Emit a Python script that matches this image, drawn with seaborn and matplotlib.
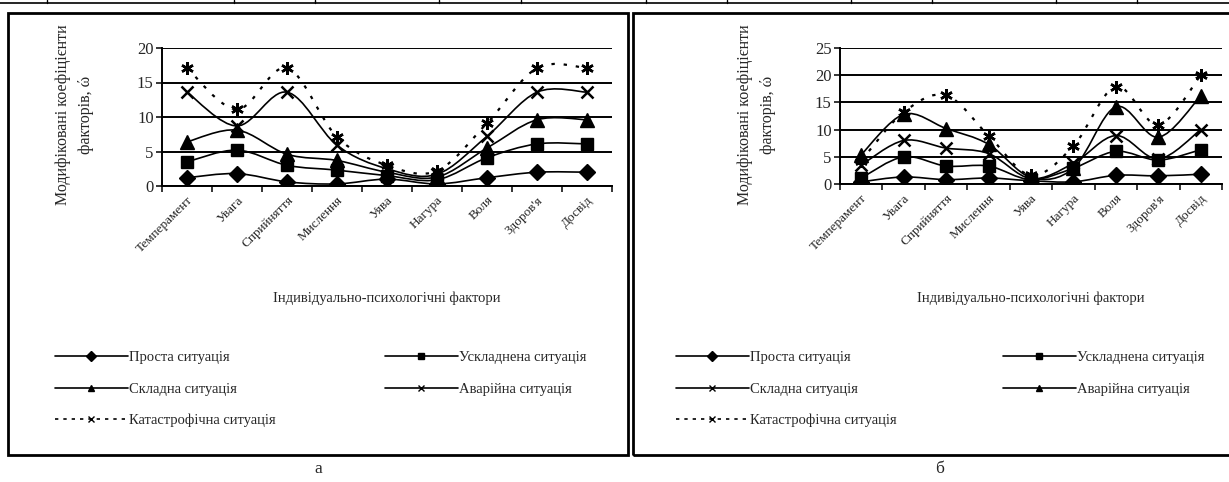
import numpy as np
import pandas as pd
import matplotlib
matplotlib.use("Agg")
import matplotlib.pyplot as plt
from matplotlib.path import Path
from matplotlib.patches import PathPatch, Rectangle
from matplotlib.lines import Line2D
import seaborn as sns

factors = ["Темперамент", "Увага", "Сприйняття", "Мислення", "Уява",
           "Нагура", "Воля", "Здоров'я", "Досвід"]

# panel "а"
a_prosta = [1.2, 1.8, 0.6, 0.3, 1.0, 0.3, 1.2, 2.0, 2.0]
a_uskl = [3.5, 5.2, 3.0, 2.3, 1.5, 0.9, 4.1, 6.1, 6.1]
a_skl = [6.4, 8.1, 4.6, 3.7, 2.0, 1.3, 5.5, 9.6, 9.6]
a_avar = [13.6, 8.7, 13.6, 5.9, 2.5, 1.7, 7.2, 13.6, 13.6]
a_kat = [17.1, 11.1, 17.1, 7.1, 3.0, 2.2, 9.1, 17.1, 17.1]

# panel "б"
b_prosta = [0.4, 1.3, 0.8, 1.1, 0.6, 0.4, 1.6, 1.5, 1.8]
b_uskl = [1.1, 5.0, 3.3, 3.3, 0.8, 2.9, 6.0, 4.4, 6.3]
b_skl = [3.5, 8.0, 6.6, 5.6, 1.0, 3.8, 8.9, 4.6, 10.0]
b_avar = [5.4, 12.8, 10.2, 7.3, 1.2, 2.9, 14.2, 8.6, 16.2]
b_kat = [4.3, 13.2, 16.3, 8.9, 1.6, 7.0, 17.9, 10.9, 20.0]

sns.set_style("white")
plt.rcParams["font.family"] = ["Liberation Serif", "DejaVu Serif"]

W, H = 1229, 482
fig = plt.figure(figsize=(W / 100, H / 100), dpi=100)


def fx(px):
    return px / W


def fy(py):
    return 1 - py / H


def smooth(ax, xs, ys, **kw):
    # Excel-style smoothed line (Catmull-Rom as cubic Bezier)
    n = len(xs)
    verts = [(xs[0], ys[0])]
    codes = [Path.MOVETO]
    for i in range(n - 1):
        p0 = max(i - 1, 0)
        p3 = min(i + 2, n - 1)
        c1 = (xs[i] + (xs[i + 1] - xs[p0]) / 6, ys[i] + (ys[i + 1] - ys[p0]) / 6)
        c2 = (xs[i + 1] - (xs[p3] - xs[i]) / 6, ys[i + 1] - (ys[p3] - ys[i]) / 6)
        verts += [c1, c2, (xs[i + 1], ys[i + 1])]
        codes += [Path.CURVE4] * 3
    ax.add_patch(PathPatch(Path(verts, codes), fill=False, **kw))


ast = (6, 2, 0)
names = ["Проста ситуація", "Ускладнена ситуація", "Складна ситуація",
         "Аварійна ситуація", "Катастрофічна ситуація"]


def panel(ax, series, markers, ymax, sizes):
    x = np.arange(len(factors))
    df = pd.DataFrame({"x": np.tile(x, len(series)),
                       "y": np.concatenate(series),
                       "s": np.repeat(names, len(factors))})
    for i, (ys, m) in enumerate(zip(series, markers)):
        if i == 4:
            smooth(ax, x, ys, edgecolor="black", lw=1.6, linestyle=(0, (1.5, 4)))
        else:
            smooth(ax, x, ys, edgecolor="black", lw=1.2)
        sub = df[df["s"] == names[i]]
        sns.lineplot(data=sub, x="x", y="y", ax=ax, marker=m, linestyle="",
                     color="black", markersize=sizes[i],
                     markeredgewidth=1.8 if m in ("x", ast) else 1,
                     markeredgecolor="black", legend=False)
    ax.set_xlim(-0.5, 8.5)
    ax.set_ylim(0, ymax)
    ax.set_yticks(np.arange(0, ymax + 1, 5))
    ax.yaxis.grid(True, color="black", lw=1.4)
    ax.set_axisbelow(True)
    ax.set_xticks(x)
    ax.set_xticks(np.arange(-0.5, 9, 1), minor=True)
    ax.set_xticklabels(factors, rotation=45, ha="right", va="top",
                       rotation_mode="anchor", fontsize=9.5)
    ax.tick_params(axis="x", which="major", length=0, pad=6)
    ax.tick_params(axis="x", which="minor", length=4, width=1.3, direction="out", bottom=True)
    ax.tick_params(axis="y", length=4, width=1.3, direction="out", left=True, labelsize=12, pad=2)
    for s in ["top", "right"]:
        ax.spines[s].set_visible(False)
    for s in ["left", "bottom"]:
        ax.spines[s].set_color("black")
        ax.spines[s].set_linewidth(1.4)
    ax.set_xlabel("")
    ax.set_ylabel("")


ax1 = fig.add_axes([fx(162), fy(186), fx(450), 138 / H])
panel(ax1, [a_prosta, a_uskl, a_skl, a_avar, a_kat], ["D", "s", "^", "x", ast], 20,
      [8, 9, 10, 9, 9])
ax2 = fig.add_axes([fx(840), fy(184), fx(382), 136 / H])
panel(ax2, [b_prosta, b_uskl, b_skl, b_avar, b_kat], ["D", "s", "x", "^", ast], 25,
      [8, 9, 9, 10, 9])

# frames
fig.add_artist(Rectangle((fx(8), fy(455)), fx(620), (455 - 13) / H, fill=False,
                         lw=2, edgecolor="black", transform=fig.transFigure))
fig.add_artist(Rectangle((fx(633), fy(455)), fx(620), (455 - 13) / H, fill=False,
                         lw=2, edgecolor="black", transform=fig.transFigure))
# table line on top
fig.add_artist(Line2D([0, 1], [fy(3), fy(3)], color="black", lw=1.2, transform=fig.transFigure))
for vx in [47, 234, 315, 439, 521, 646, 727, 851, 932, 1056, 1137]:
    fig.add_artist(Line2D([fx(vx), fx(vx)], [fy(3), 1], color="black", lw=1,
                          transform=fig.transFigure))

# axis titles
for cx, lx in [(387, 63), (1031, 745)]:
    fig.text(fx(cx), fy(298), "Індивідуально-психологічні фактори", ha="center",
             va="center", fontsize=10.5)
    fig.text(fx(lx), fy(115), "Модифіковані коефіцієнти", rotation=90,
             ha="center", va="center", fontsize=11.5)
    fig.text(fx(lx + 23), fy(115), "факторів, ώ", rotation=90,
             ha="center", va="center", fontsize=11.5)

fig.text(fx(318), fy(469), "а", ha="center", va="center", fontsize=12.5)
fig.text(fx(940), fy(469), "б", ha="center", va="center", fontsize=12.5)


# legends
def handle(m, dashed=False):
    return Line2D([], [], color="black", lw=1.2, marker=m, markersize=5,
                  linestyle=(0, (2, 3)) if dashed else "-")


def legends(x1, x2, marks):
    hs = [handle(m, i == 4) for i, m in enumerate(marks)]
    kw = dict(frameon=False, loc="upper left", handlelength=5, handletextpad=0.1,
              labelspacing=1.25, borderpad=0, borderaxespad=0, fontsize=10.5)
    l1 = fig.legend([hs[0], hs[2], hs[4]], [names[0], names[2], names[4]],
                    bbox_to_anchor=(fx(x1), fy(351)), **kw)
    l2 = fig.legend([hs[1], hs[3]], [names[1], names[3]],
                    bbox_to_anchor=(fx(x2), fy(351)), **kw)
    return l1, l2


legends(55, 385, ["D", "s", "^", "x", "x"])
legends(676, 1003, ["D", "s", "x", "^", "x"])

fig.savefig("out.png", dpi=100)
